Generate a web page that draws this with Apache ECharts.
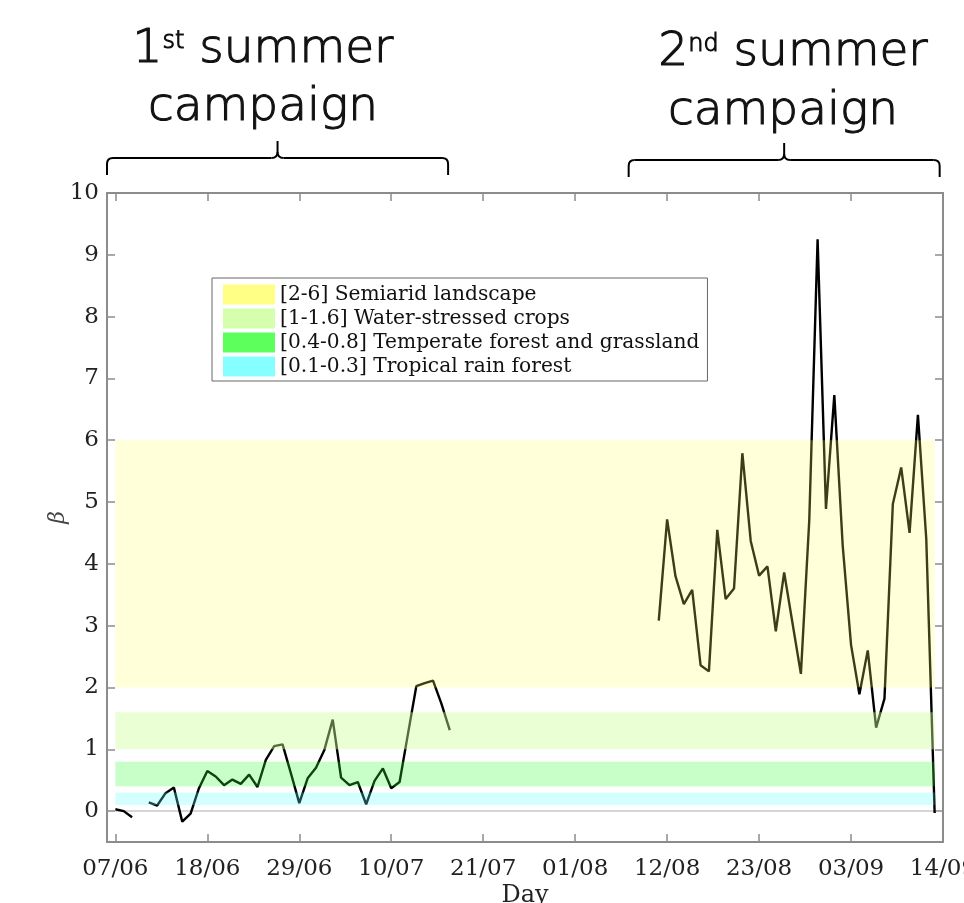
<!DOCTYPE html>
<html>
<head>
<meta charset="utf-8">
<script src="https://cdn.jsdelivr.net/npm/echarts@6/dist/echarts.min.js"></script>
<style>
  html, body { margin: 0; padding: 0; background: #fff; }
  #chart { width: 964px; height: 903px; }
</style>
</head>
<body>
<div id="chart"></div>
<script>
// Day index: 0 = 07/06
const tickDays = [0, 11, 22, 33, 44, 55, 66, 77, 88, 99];
const tickLabels = ['07/06', '18/06', '29/06', '10/07', '21/07', '01/08', '12/08', '23/08', '03/09', '14/09'];
const yTicks = [0, 1, 2, 3, 4, 5, 6, 7, 8, 9, 10];

// Daily beta, first summer campaign (null = no measurement)
const firstStartDay = 0;
const firstValues = [0.03, 0.0, -0.1, null, 0.14, 0.09, 0.29, 0.38, -0.17, -0.04,
  0.37, 0.65, 0.56, 0.42, 0.51, 0.44, 0.59, 0.39, 0.83, 1.05,
  1.08, 0.61, 0.13, 0.53, 0.70, 0.99, 1.48, 0.54, 0.42, 0.47,
  0.11, 0.49, 0.69, 0.37, 0.47, 1.25, 2.02, 2.07, 2.11, 1.74, 1.31];

// Daily beta, second summer campaign
const secondStartDay = 65;
const secondValues = [3.08, 4.72, 3.80, 3.35, 3.58, 2.36, 2.26, 4.55, 3.43, 3.60,
  5.79, 4.37, 3.81, 3.96, 2.91, 3.86, 3.04, 2.22, 4.70, 9.25,
  4.89, 6.73, 4.30, 2.69, 1.89, 2.60, 1.35, 1.82, 4.97, 5.56,
  4.50, 6.41, 4.40, -0.03];

// Reference beta ranges per land type
const bandNames = ['[2-6] Semiarid landscape', '[1-1.6] Water-stressed crops',
  '[0.4-0.8] Temperate forest and grassland', '[0.1-0.3] Tropical rain forest'];
const bandLow = [2, 1, 0.4, 0.1];
const bandHigh = [6, 1.6, 0.8, 0.3];
const bandColors = ['#ffff66', '#ccff99', '#33ff33', '#66ffff'];
const bandAlpha = [0.24, 0.42, 0.27, 0.28];

// Campaign annotations (spans in day index)
const campaignOrdinal = [['1', 'st'], ['2', 'nd']];
const campaignFrom = [-1, 61.4];
const campaignTo = [39.8, 98.6];

const lineData = [];
firstValues.forEach((v, i) => lineData.push([firstStartDay + i, v]));
lineData.push([(firstStartDay + firstValues.length + secondStartDay) / 2, null]);
secondValues.forEach((v, i) => lineData.push([secondStartDay + i, v]));

const dataStart = firstStartDay;
const dataEnd = secondStartDay + secondValues.length - 1;

function rgba(hex, a) {
  const n = parseInt(hex.slice(1), 16);
  return `rgba(${(n >> 16) & 255},${(n >> 8) & 255},${n & 255},${a})`;
}

const axisGray = '#8c8c8c';
const serif = 'DejaVu Serif';

function xAxisCfg(pos, withLabels) {
  return {
    type: 'value', position: pos, min: -1, max: 99,
    axisLine: { show: true, onZero: false, lineStyle: { color: axisGray, width: 2 } },
    axisTick: { show: true, inside: true, length: 8, customValues: tickDays, lineStyle: { color: axisGray, width: 1.5 } },
    axisLabel: withLabels ? {
      show: true, customValues: tickDays, margin: 16,
      formatter: v => tickLabels[tickDays.indexOf(v)],
      fontFamily: serif, fontSize: 23, color: '#222'
    } : { show: false },
    splitLine: { show: false },
    name: withLabels ? 'Day' : '', nameLocation: 'middle', nameGap: 42, nameMoveOverlap: false,
    nameTextStyle: { fontFamily: serif, fontSize: 24, color: '#222' }
  };
}

function yAxisCfg(pos, withLabels) {
  return {
    type: 'value', position: pos, min: -0.5, max: 10,
    axisLine: { show: true, onZero: false, lineStyle: { color: axisGray, width: 2 } },
    axisTick: { show: true, inside: true, length: 8, customValues: yTicks, lineStyle: { color: axisGray, width: 1.5 } },
    axisLabel: withLabels ? {
      show: true, customValues: yTicks, margin: 8,
      fontFamily: serif, fontSize: 23, color: '#222'
    } : { show: false },
    splitLine: { show: false },
    name: withLabels ? 'β' : '', nameLocation: 'middle', nameGap: 38, nameRotate: 90, nameMoveOverlap: false,
    nameTextStyle: { fontFamily: serif, fontStyle: 'italic', fontSize: 22, color: '#444' }
  };
}

const bandSeries = bandNames.map((name, i) => ({
  type: 'scatter', name: name, data: [], z: 5,
  itemStyle: { color: bandColors[i] },
  markArea: {
    silent: true, z: 5,
    itemStyle: { color: rgba(bandColors[i], bandAlpha[i]), borderWidth: 0 },
    data: [[{ xAxis: dataStart, yAxis: bandLow[i] }, { xAxis: dataEnd, yAxis: bandHigh[i] }]]
  }
}));

const chart = echarts.init(document.getElementById('chart'), null, { renderer: 'canvas' });

chart.setOption({
  animation: false,
  backgroundColor: '#fff',
  grid: { left: 107, right: 21, top: 193, bottom: 61, containLabel: false, outerBoundsMode: 'none' },
  xAxis: [xAxisCfg('bottom', true), xAxisCfg('top', false)],
  yAxis: [yAxisCfg('left', true), yAxisCfg('right', false)],
  legend: {
    data: bandNames.map(n => ({ name: n, icon: 'rect' })),
    orient: 'vertical', left: 212, top: 278,
    itemWidth: 52, itemHeight: 20, itemGap: 3,
    padding: [6, 8, 4, 11],
    borderColor: '#666', borderWidth: 1, borderRadius: 0,
    backgroundColor: '#fff', selectedMode: false,
    textStyle: { fontFamily: serif, fontSize: 20.2, lineHeight: 21, color: '#111' }
  },
  series: [
    {
      type: 'scatter', name: 'zero', data: [], z: 1,
      markLine: {
        silent: true, symbol: 'none', z: 1,
        label: { show: false },
        lineStyle: { color: '#d6d6d6', width: 2, type: 'solid' },
        data: [[{ coord: [dataStart, 0] }, { coord: [dataEnd, 0] }]]
      }
    },
    {
      type: 'line', name: 'beta', data: lineData, z: 2,
      showSymbol: false, symbol: 'none', connectNulls: false,
      lineStyle: { color: '#000', width: 2.4 }
    },
    ...bandSeries
  ]
});

// Campaign braces and headings
const braceStyle = { stroke: '#000', lineWidth: 2, fill: null };
function seg(x1, y1, x2, y2) {
  return { type: 'line', shape: { x1, y1, x2, y2 }, style: braceStyle };
}
function curve(x1, y1, cx, cy, x2, y2) {
  return { type: 'bezierCurve', shape: { x1, y1, x2, y2, cpx1: cx, cpy1: cy }, style: braceStyle };
}
function brace(x0, x1, yH, yEnd, yTop) {
  const r = 6;
  const xc = (x0 + x1) / 2;
  return [
    seg(x0, yEnd, x0, yH + r),
    curve(x0, yH + r, x0, yH, x0 + r, yH),
    seg(x0 + r, yH, xc - r, yH),
    curve(xc - r, yH, xc, yH, xc, yH - r),
    seg(xc, yH - r, xc, yTop),
    curve(xc, yH - r, xc, yH, xc + r, yH),
    seg(xc + r, yH, x1 - r, yH),
    curve(x1 - r, yH, x1, yH, x1, yH + r),
    seg(x1, yH + r, x1, yEnd)
  ];
}

const braceY = [158, 160];
const titleCenters = [[263, 263], [793, 783]];
const titleTops = [[24, 82], [27, 86]];
// Light face thickened with a thin outline
const titleFont = { fontFamily: 'DejaVu Sans', fontWeight: 200, fill: '#111', stroke: '#111', lineWidth: 1.1 };

const graphics = [];
campaignOrdinal.forEach((ord, i) => {
  const x0 = chart.convertToPixel({ xAxisIndex: 0 }, campaignFrom[i]);
  const x1 = chart.convertToPixel({ xAxisIndex: 0 }, campaignTo[i]);
  const yH = braceY[i];
  brace(x0, x1, yH, yH + 17, yH - 17).forEach(el => graphics.push(el));
  graphics.push({
    type: 'text', x: titleCenters[i][0], y: titleTops[i][0],
    style: Object.assign({
      text: `{n|${ord[0]}}{s|${ord[1]}}{n| summer}`,
      align: 'center', verticalAlign: 'top',
      rich: {
        n: Object.assign({ fontSize: 47, lineHeight: 52 }, titleFont),
        s: Object.assign({ fontSize: 24, lineHeight: 24, verticalAlign: 'top', padding: [6, 0, 0, 0] }, titleFont)
      }
    }, titleFont)
  });
  graphics.push({
    type: 'text', x: titleCenters[i][1], y: titleTops[i][1],
    style: Object.assign({
      text: 'campaign', align: 'center', verticalAlign: 'top',
      fontSize: 47, lineHeight: 52
    }, titleFont)
  });
});
chart.setOption({ graphic: graphics });
</script>
</body>
</html>
